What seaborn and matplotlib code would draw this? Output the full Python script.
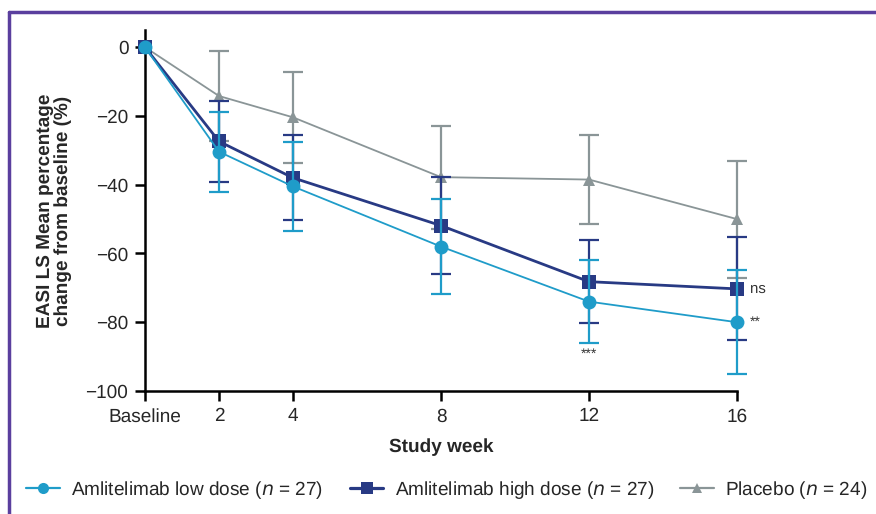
import numpy as np
import pandas as pd
import seaborn as sns
import matplotlib.pyplot as plt
from matplotlib.lines import Line2D

# values
weeks = [0, 2, 4, 8, 12, 16]
week_labels = ["Baseline", "2", "4", "8", "12", "16"]

low_mean = [0, -30.4, -40.5, -58.0, -74.0, -80.0]
low_err = [0, 11.6, 13.0, 13.9, 12.0, 15.2]
high_mean = [0, -27.4, -38.0, -51.9, -68.2, -70.3]
high_err = [0, 11.7, 12.4, 14.0, 12.0, 15.0]
pbo_mean = [0, -14.2, -20.4, -37.8, -38.5, -50.0]
pbo_err = [0, 13.0, 13.3, 15.0, 13.0, 17.0]

groups = [
    "Amlitelimab low dose ($n$ = 27)",
    "Amlitelimab high dose ($n$ = 27)",
    "Placebo ($n$ = 24)",
]
colors = ["#1f9cc9", "#283a84", "#8a9597"]
markers = ["o", "s", "^"]

sns.set_style("ticks")
plt.rcParams["font.family"] = ["Liberation Sans Narrow", "Liberation Sans", "DejaVu Sans"]
plt.rcParams["mathtext.fontset"] = "custom"
plt.rcParams["mathtext.it"] = "Liberation Sans Narrow:italic"
plt.rcParams["mathtext.rm"] = "Liberation Sans Narrow"
plt.rcParams["text.hinting"] = "no_hinting"
plt.rcParams["text.hinting_factor"] = 1

df = pd.DataFrame({
    "week": weeks * 3,
    "mean": low_mean + high_mean + pbo_mean,
    "err": low_err + high_err + pbo_err,
    "group": [g for g in groups for _ in weeks],
})

fig = plt.figure(figsize=(8.76, 5.14), dpi=100)
ax = fig.add_axes([145 / 876, 1 - 391 / 514, (737 - 145) / 876, (391 - 30) / 514])

# draw placebo first so the actives sit on top
order = [2, 1, 0]
lws = [1.3, 2.0, 1.3]
msizes = [10, 10, 9]
for i in order:
    sub = df[df["group"] == groups[i]]
    z = 3 + (2 - i)
    ax.errorbar(sub["week"][1:], sub["mean"][1:], yerr=sub["err"][1:], fmt="none",
                ecolor=colors[i], elinewidth=1.6, capsize=7.5, capthick=1.6,
                zorder=z, clip_on=False)
    sns.lineplot(data=sub, x="week", y="mean", ax=ax, color=colors[i],
                 marker=markers[i], markersize=msizes[i], markeredgewidth=0,
                 linewidth=lws[i], legend=False, zorder=z + 0.5, clip_on=False)

ax.set_xlim(0, 16)
ax.set_ylim(-100, 5)
ax.set_xticks(weeks)
ax.set_xticklabels(week_labels)
ax.set_yticks([0, -20, -40, -60, -80, -100])
ax.set_yticklabels(["0", "\u221220", "\u221240", "\u221260", "\u221280", "\u2212100"])
ax.tick_params(labelsize=14, width=1.8, length=7, color="black", pad=5)

sns.despine(ax=ax)
for s in ["left", "bottom"]:
    ax.spines[s].set_linewidth(1.8)
    ax.spines[s].set_color("black")

ax.set_xlabel("Study week", fontsize=14, fontweight="bold", labelpad=9)
ax.set_ylabel("EASI LS Mean percentage\nchange from baseline (%)", fontsize=14,
              fontweight="bold", labelpad=10, linespacing=1.0)

# significance marks
ax.text(16.35, high_mean[5], "ns", fontsize=10.5, color="#333333", va="center", ha="left")
ax.text(16.35, low_mean[5], "**", fontsize=10, color="#333333", va="center", ha="left")
ax.text(12, low_mean[4] - low_err[4] - 1.5, "***", fontsize=10, color="#333333",
        va="top", ha="center")

handles = [Line2D([], [], color=colors[i], marker=markers[i], markersize=msizes[i] * 0.8,
                  markeredgewidth=0, linewidth=lws[i] + 0.3) for i in range(3)]
fig.legend(handles, groups, loc="center", bbox_to_anchor=(447 / 876, 1 - 490 / 514),
           ncol=3, frameon=False, fontsize=13.5, handlelength=1.8, handletextpad=0.6,
           columnspacing=1.4)

# purple frame (top and left edges)
fig.add_artist(Line2D([8.5 / 876, 8.5 / 876], [0, 1 - 12 / 514], color="#5a3f9e", lw=2.5))
fig.add_artist(Line2D([8.5 / 876, 1], [1 - 12 / 514, 1 - 12 / 514], color="#5a3f9e", lw=2.5))

fig.savefig("out.png", dpi=100)
